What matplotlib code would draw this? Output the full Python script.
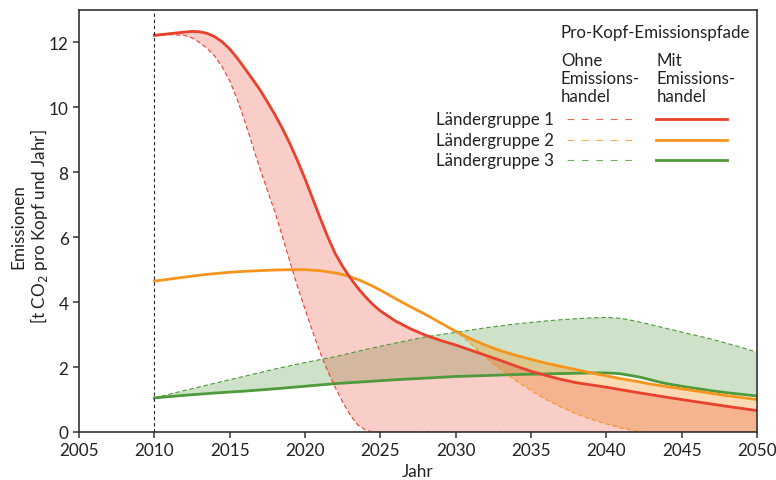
import numpy as np
import matplotlib.pyplot as plt

plt.rcParams['font.family'] = ['Lato', 'DejaVu Sans']

# Laendergruppe 1
red_mit_years = [2010, 2011, 2012, 2012.5, 2013, 2013.5, 2014, 2014.5, 2015, 2015.5,
                 2016, 2016.5, 2017, 2017.5, 2018, 2018.5, 2019, 2019.5, 2020, 2020.5,
                 2021, 2021.5, 2022, 2022.5, 2023, 2023.5, 2024, 2024.5, 2025, 2026,
                 2027, 2028, 2029, 2030, 2031, 2032, 2033, 2034, 2035, 2036,
                 2037, 2038, 2039, 2040, 2042, 2044, 2046, 2048, 2050]
red_mit = [12.22, 12.27, 12.32, 12.34, 12.33, 12.28, 12.18, 12.02, 11.8, 11.52,
           11.2, 10.88, 10.55, 10.17, 9.78, 9.35, 8.88, 8.36, 7.8, 7.2,
           6.6, 6.02, 5.5, 5.1, 4.75, 4.44, 4.17, 3.93, 3.73, 3.42,
           3.18, 2.98, 2.82, 2.68, 2.52, 2.36, 2.2, 2.03, 1.87, 1.74,
           1.62, 1.52, 1.45, 1.38, 1.22, 1.07, 0.93, 0.79, 0.66]
red_ohne_years = [2010, 2011, 2012, 2012.5, 2013, 2013.5, 2014, 2014.5, 2015, 2015.5,
                  2016, 2016.5, 2017, 2017.5, 2018, 2018.5, 2019, 2019.5, 2020, 2020.5,
                  2021, 2021.5, 2022, 2022.5, 2023, 2023.5, 2024, 2024.5, 2050]
red_ohne = [12.2, 12.24, 12.22, 12.14, 12.0, 11.82, 11.58, 11.25, 10.82, 10.25,
            9.58, 8.86, 8.12, 7.45, 6.78, 6.02, 5.25, 4.48, 3.78, 3.1,
            2.45, 1.88, 1.38, 0.92, 0.52, 0.22, 0.06, 0.0, 0.0]

# Laendergruppe 2
orange_mit_years = [2010, 2011, 2012, 2013, 2014, 2015, 2016, 2017, 2018, 2019,
                    2020, 2021, 2022, 2022.5, 2023, 2023.5, 2024, 2024.5, 2025, 2025.5,
                    2026, 2027, 2028, 2029, 2030, 2031, 2032, 2033, 2034, 2035,
                    2036, 2037, 2038, 2039, 2040, 2041, 2042, 2043, 2044, 2045,
                    2046, 2047, 2048, 2049, 2050]
orange_mit = [4.65, 4.71, 4.77, 4.83, 4.88, 4.92, 4.95, 4.97, 4.99, 5.0,
              5.0, 4.97, 4.9, 4.85, 4.78, 4.7, 4.6, 4.49, 4.37, 4.24,
              4.11, 3.86, 3.62, 3.36, 3.1, 2.87, 2.67, 2.5, 2.36, 2.24,
              2.12, 2.02, 1.92, 1.82, 1.73, 1.64, 1.56, 1.47, 1.4, 1.33,
              1.26, 1.19, 1.12, 1.06, 1.0]
orange_ohne_years = [2029, 2030, 2030.5, 2031, 2031.5, 2032, 2032.5, 2033, 2034, 2035,
                     2036, 2037, 2038, 2039, 2040, 2041, 2042, 2043, 2050]
orange_ohne = [3.36, 3.1, 2.92, 2.72, 2.5, 2.3, 2.1, 1.92, 1.58, 1.28,
               1.0, 0.77, 0.56, 0.39, 0.25, 0.12, 0.03, 0.0, 0.0]

# Laendergruppe 3
green_mit_years = [2010, 2012, 2014, 2016, 2018, 2020, 2022, 2024, 2026, 2028,
                   2030, 2032, 2034, 2036, 2038, 2039, 2040, 2040.5, 2041, 2041.5,
                   2042, 2042.5, 2043, 2043.5, 2044, 2045, 2046, 2047, 2048, 2049, 2050]
green_mit = [1.05, 1.13, 1.2, 1.26, 1.33, 1.41, 1.49, 1.55, 1.61, 1.66,
             1.71, 1.74, 1.77, 1.79, 1.81, 1.82, 1.82, 1.81, 1.79, 1.75,
             1.71, 1.66, 1.6, 1.54, 1.49, 1.41, 1.34, 1.27, 1.21, 1.16, 1.11]
green_ohne_years = [2010, 2012, 2014, 2016, 2018, 2020, 2022, 2024, 2026, 2028,
                    2030, 2032, 2034, 2036, 2037, 2038, 2039, 2040, 2041, 2042,
                    2043, 2044, 2045, 2046, 2047, 2048, 2049, 2050]
green_ohne = [1.05, 1.28, 1.5, 1.72, 1.94, 2.14, 2.32, 2.54, 2.74, 2.93,
              3.07, 3.21, 3.33, 3.42, 3.46, 3.49, 3.515, 3.53, 3.5, 3.41,
              3.3, 3.19, 3.08, 2.97, 2.86, 2.73, 2.6, 2.46]

groups = ['Ländergruppe 1', 'Ländergruppe 2', 'Ländergruppe 3']
red, orange, green = '#e8412c', '#f7941d', '#4e9a3c'

fig = plt.figure(figsize=(7.76, 4.81), dpi=100)
ax = fig.add_axes([79/776, 1-433/481, (757-79)/776, (433-11)/481])

dash = (4, 2.5)


def band(xa, ya, xb, yb, c, a):
    # polygon between two curves
    px = np.concatenate([xa, xb[::-1]])
    py = np.concatenate([ya, yb[::-1]])
    ax.fill(px, py, color=c, alpha=a, lw=0)


# green first, then orange, red on top
band(np.array(green_mit_years), np.array(green_mit),
     np.array(green_ohne_years), np.array(green_ohne), green, 0.28)
ax.plot(green_ohne_years, green_ohne, color=green, lw=0.8, dashes=dash)
ax.plot(green_mit_years, green_mit, color=green, lw=2)

band(np.array(orange_mit_years[19:]), np.array(orange_mit[19:]),
     np.array(orange_ohne_years), np.array(orange_ohne), orange, 0.33)
ax.plot(orange_ohne_years, orange_ohne, color=orange, lw=0.8, dashes=dash)
ax.plot(orange_mit_years, orange_mit, color=orange, lw=2)

band(np.array(red_mit_years), np.array(red_mit),
     np.array(red_ohne_years), np.array(red_ohne), red, 0.26)
ax.plot(red_ohne_years, red_ohne, color=red, lw=0.8, dashes=dash)
ax.plot(red_mit_years, red_mit, color=red, lw=2)

ax.axvline(2010, color='#222222', lw=0.8, dashes=(3, 2.5))

ax.set_xlim(2005, 2050)
ax.set_ylim(0, 13)
ax.set_xticks(range(2005, 2051, 5))
ax.set_yticks(range(0, 13, 2))
ax.tick_params(labelsize=12.3, length=4, width=1.1, color='#333333', labelcolor='#222222')
for s in ax.spines.values():
    s.set_linewidth(1.2)
    s.set_color('#333333')

ax.set_xlabel('Jahr', fontsize=12.3, color='#222222', labelpad=3)
ax.set_ylabel('Emissionen\n[t CO$_2$ pro Kopf und Jahr]', fontsize=12.3, color='#222222',
              linespacing=1.1, va='center')
ax.yaxis.set_label_coords(-0.072, 0.49)

# legend built by hand
def fx(px):
    return px / 776


def fy(py):
    return 1 - py / 481


fs = 12.2
fig.text(fx(561), fy(33), 'Pro-Kopf-Emissionspfade', fontsize=fs, va='center', color='#222222')
fig.text(fx(561), fy(53), 'Ohne\nEmissions-\nhandel', fontsize=fs, va='top', color='#222222',
         linespacing=1.15)
fig.text(fx(657), fy(53), 'Mit\nEmissions-\nhandel', fontsize=fs, va='top', color='#222222',
         linespacing=1.15)
for name, c, py in zip(groups, [red, orange, green], [120, 141, 161]):
    fig.text(fx(436), fy(py), name, fontsize=fs, va='center', color='#222222')
    fig.add_artist(plt.Line2D([fx(567), fx(638)], [fy(py), fy(py)], color=c, lw=0.8,
                              alpha=0.8, dashes=(6, 7)))
    fig.add_artist(plt.Line2D([fx(656), fx(727)], [fy(py), fy(py)], color=c, lw=2))

fig.savefig('out.png', dpi=100)
